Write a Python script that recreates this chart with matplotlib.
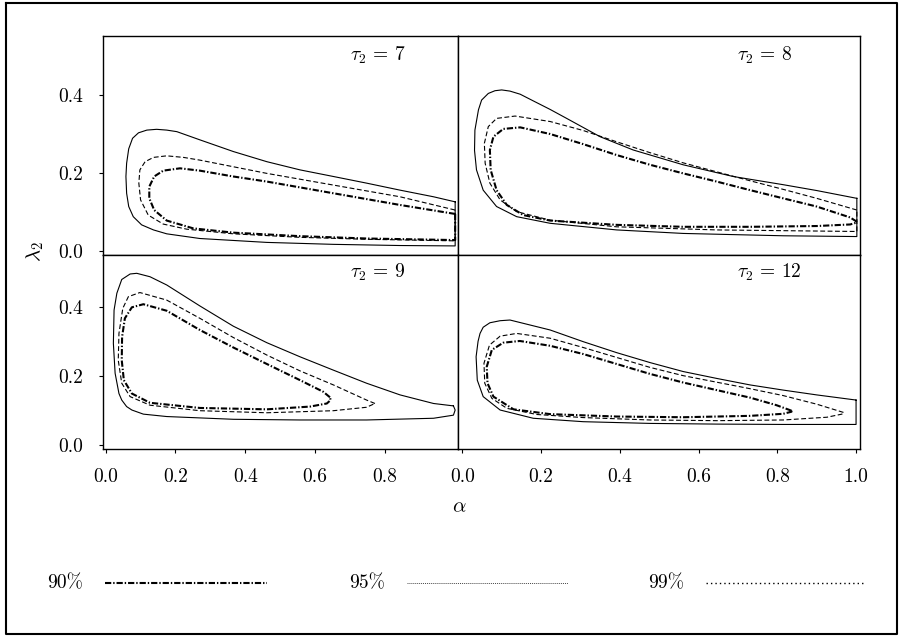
import matplotlib
matplotlib.use('Agg')
import matplotlib.pyplot as plt
import numpy as np

plt.rcParams['font.family'] = 'serif'
plt.rcParams['font.serif'] = ['cmr10', 'DejaVu Serif']
plt.rcParams['mathtext.fontset'] = 'cm'
plt.rcParams['axes.formatter.use_mathtext'] = True
plt.rcParams['lines.scale_dashes'] = False

# panel titles and confidence levels
taus = [7, 8, 9, 12]
levels = ['90%', '95%', '99%']

# contour points (alpha, lambda_2), tau_2 = 7
t7_99 = [(1.002, 0.126), (0.940, 0.139), (0.844, 0.156), (0.748, 0.174), (0.653, 0.191),
         (0.557, 0.208), (0.462, 0.229), (0.366, 0.255), (0.270, 0.285), (0.204, 0.306),
         (0.175, 0.310), (0.146, 0.312), (0.118, 0.310), (0.094, 0.303), (0.077, 0.289),
         (0.066, 0.262), (0.060, 0.225), (0.058, 0.191), (0.060, 0.148), (0.066, 0.114),
         (0.079, 0.088), (0.103, 0.067), (0.137, 0.054), (0.175, 0.044), (0.270, 0.032),
         (0.462, 0.022), (0.653, 0.017), (0.844, 0.014), (1.002, 0.013)]
t7_95 = [(1.002, 0.105), (0.844, 0.139), (0.653, 0.169), (0.462, 0.199), (0.366, 0.216),
         (0.270, 0.233), (0.223, 0.240), (0.175, 0.244), (0.137, 0.240), (0.113, 0.229),
         (0.098, 0.208), (0.095, 0.174), (0.100, 0.131), (0.122, 0.092), (0.165, 0.069),
         (0.232, 0.056), (0.366, 0.044), (0.557, 0.035), (0.748, 0.030), (1.002, 0.026)]
t7_90 = [(1.002, 0.095), (0.844, 0.118), (0.653, 0.148), (0.462, 0.178), (0.366, 0.191),
         (0.270, 0.206), (0.213, 0.212), (0.165, 0.206), (0.139, 0.191), (0.125, 0.165),
         (0.125, 0.135), (0.139, 0.105), (0.175, 0.078), (0.251, 0.058), (0.366, 0.047),
         (0.557, 0.038), (0.748, 0.032), (1.002, 0.028)]

# tau_2 = 8
t8_99 = [(1.002, 0.135), (0.900, 0.155), (0.815, 0.170), (0.688, 0.191), (0.561, 0.221),
         (0.434, 0.259), (0.350, 0.293), (0.265, 0.340), (0.223, 0.363), (0.180, 0.385),
         (0.147, 0.402), (0.121, 0.410), (0.100, 0.413), (0.083, 0.411), (0.066, 0.404),
         (0.049, 0.387), (0.041, 0.362), (0.032, 0.310), (0.031, 0.258), (0.036, 0.208),
         (0.053, 0.156), (0.087, 0.114), (0.138, 0.088), (0.223, 0.071), (0.392, 0.054),
         (0.561, 0.045), (0.815, 0.039), (1.002, 0.037)]
t8_95 = [(1.002, 0.105), (0.900, 0.135), (0.815, 0.158), (0.731, 0.180), (0.646, 0.203),
         (0.561, 0.226), (0.477, 0.252), (0.392, 0.280), (0.307, 0.309), (0.223, 0.332),
         (0.134, 0.346), (0.087, 0.340), (0.066, 0.319), (0.056, 0.276), (0.058, 0.225),
         (0.070, 0.174), (0.096, 0.131), (0.138, 0.101), (0.223, 0.079), (0.392, 0.062),
         (0.646, 0.054), (1.002, 0.050)]
t8_90 = [(1.002, 0.075), (0.985, 0.086), (0.900, 0.114), (0.815, 0.135), (0.731, 0.156),
         (0.646, 0.178), (0.561, 0.199), (0.477, 0.221), (0.392, 0.246), (0.307, 0.274),
         (0.223, 0.300), (0.147, 0.317), (0.104, 0.313), (0.079, 0.293), (0.070, 0.259),
         (0.072, 0.208), (0.087, 0.156), (0.113, 0.118), (0.155, 0.092), (0.223, 0.078),
         (0.392, 0.067), (0.561, 0.062), (0.731, 0.062), (0.900, 0.064), (0.985, 0.068),
         (1.002, 0.073)]

# tau_2 = 9
t9_99 = [(0.997, 0.113), (0.940, 0.120), (0.844, 0.145), (0.748, 0.179), (0.653, 0.217),
         (0.557, 0.256), (0.462, 0.297), (0.366, 0.345), (0.270, 0.404), (0.175, 0.465),
         (0.127, 0.489), (0.089, 0.499), (0.070, 0.497), (0.046, 0.481), (0.032, 0.441),
         (0.024, 0.392), (0.022, 0.295), (0.027, 0.208), (0.038, 0.149), (0.046, 0.130),
         (0.060, 0.111), (0.075, 0.101), (0.108, 0.089), (0.175, 0.082), (0.366, 0.074),
         (0.557, 0.072), (0.748, 0.072), (0.940, 0.077), (0.997, 0.086), (1.002, 0.101)]
t9_95 = [(0.772, 0.120), (0.748, 0.130), (0.653, 0.174), (0.557, 0.215), (0.462, 0.261),
         (0.366, 0.312), (0.270, 0.368), (0.175, 0.421), (0.098, 0.443), (0.065, 0.431),
         (0.049, 0.397), (0.038, 0.324), (0.036, 0.246), (0.046, 0.179), (0.070, 0.140),
         (0.127, 0.115), (0.270, 0.099), (0.462, 0.093), (0.653, 0.099), (0.748, 0.109)]
t9_90 = [(0.643, 0.138), (0.624, 0.154), (0.557, 0.188), (0.462, 0.235), (0.366, 0.283),
         (0.270, 0.334), (0.175, 0.390), (0.108, 0.409), (0.075, 0.400), (0.055, 0.368),
         (0.047, 0.314), (0.046, 0.246), (0.052, 0.188), (0.075, 0.149), (0.127, 0.122),
         (0.270, 0.107), (0.462, 0.103), (0.586, 0.111), (0.634, 0.120), (0.645, 0.130)]

# tau_2 = 12
t12_99 = [(1.000, 0.130), (0.900, 0.145), (0.815, 0.159), (0.731, 0.174), (0.646, 0.193),
          (0.561, 0.213), (0.477, 0.239), (0.392, 0.268), (0.307, 0.300), (0.223, 0.334),
          (0.121, 0.363), (0.096, 0.361), (0.070, 0.355), (0.053, 0.342), (0.045, 0.324),
          (0.040, 0.301), (0.035, 0.256), (0.038, 0.188), (0.053, 0.140), (0.096, 0.101),
          (0.180, 0.077), (0.307, 0.067), (0.477, 0.062), (0.646, 0.060), (0.815, 0.059),
          (1.000, 0.059)]
t12_95 = [(0.968, 0.094), (0.900, 0.118), (0.815, 0.143), (0.731, 0.163), (0.646, 0.182),
          (0.561, 0.201), (0.477, 0.225), (0.392, 0.254), (0.307, 0.283), (0.223, 0.310),
          (0.138, 0.324), (0.096, 0.316), (0.069, 0.290), (0.055, 0.237), (0.057, 0.179),
          (0.075, 0.135), (0.113, 0.106), (0.189, 0.088), (0.307, 0.079), (0.477, 0.072),
          (0.646, 0.070), (0.815, 0.072), (0.926, 0.080), (0.964, 0.089)]
t12_90 = [(0.836, 0.099), (0.798, 0.115), (0.731, 0.137), (0.646, 0.159), (0.561, 0.181),
          (0.477, 0.206), (0.392, 0.235), (0.307, 0.264), (0.223, 0.288), (0.146, 0.302),
          (0.104, 0.297), (0.075, 0.276), (0.062, 0.227), (0.064, 0.179), (0.079, 0.140),
          (0.130, 0.103), (0.223, 0.089), (0.392, 0.082), (0.561, 0.080), (0.731, 0.084),
          (0.815, 0.090), (0.836, 0.096)]

panels = {7: (t7_90, t7_95, t7_99), 8: (t8_90, t8_95, t8_99),
          9: (t9_90, t9_95, t9_99), 12: (t12_90, t12_95, t12_99)}

W, H = 903, 637
fig = plt.figure(figsize=(W / 100, H / 100), dpi=100)

def px_box(x0, y0, x1, y1):
    return [x0 / W, (H - y1) / H, (x1 - x0) / W, (y1 - y0) / H]

boxes = {7: px_box(102.7, 36, 458.3, 255), 8: px_box(458.3, 36, 860, 255),
         9: px_box(102.7, 255, 458.3, 449), 12: px_box(458.3, 255, 860, 449)}
ylims = {7: (-0.0103, 0.5513), 8: (-0.0103, 0.5513), 9: (-0.0125, 0.5523), 12: (-0.0125, 0.5523)}
xlims = {7: (-0.0086, 1.011), 9: (-0.0086, 1.011), 8: (-0.0102, 1.010), 12: (-0.0102, 1.010)}

styles = [dict(lw=1.5, dashes=(4.5, 1.4, 1.0, 1.4)),
          dict(lw=0.8, dashes=(3.5, 1.8)),
          dict(lw=0.8)]

for t in taus:
    ax = fig.add_axes(boxes[t])
    for pts, st in zip(panels[t], styles):
        p = np.array(pts + [pts[0]])
        kw = dict(st)
        d = kw.pop('dashes', None)
        line, = ax.plot(p[:, 0], p[:, 1], color='black', solid_joinstyle='round', **kw)
        if d is not None:
            line.set_dashes(d)
    ax.set_xlim(*xlims[t])
    ax.set_ylim(*ylims[t])
    for s in ax.spines.values():
        s.set_linewidth(1.0)
    ax.tick_params(axis='y', direction='out', length=3, width=0.8, labelsize=14, pad=11)
    ax.tick_params(axis='x', direction='out', length=3, width=0.8, labelsize=14, pad=11)
    ax.text(0.695, 0.91, r'$\tau_2 \,=\, %d$' % t, transform=ax.transAxes,
            ha='left', va='center', fontsize=14)
    if t in (7, 9):
        ax.set_yticks([0.0, 0.2, 0.4])
        ax.set_yticklabels(['0.0', '0.2', '0.4'])
    else:
        ax.set_yticks([])
    if t == 9:
        ax.set_xticks([0.0, 0.2, 0.4, 0.6, 0.8])
        ax.set_xticklabels(['0.0', '0.2', '0.4', '0.6', '0.8'])
    elif t == 12:
        ax.set_xticks([0.0, 0.2, 0.4, 0.6, 0.8, 1.0])
        ax.set_xticklabels(['0.0', '0.2', '0.4', '0.6', '0.8', '1.0'])
    else:
        ax.set_xticks([])

fig.text(35 / W, (H - 252) / H, r'$\lambda_2$', rotation=90, ha='center', va='center', fontsize=15)
fig.text(459 / W, (H - 507) / H, r'$\alpha$', ha='center', va='center', fontsize=15)

# overlay for the legend row and the outer frame
ov = fig.add_axes([0, 0, 1, 1])
ov.set_xlim(0, W)
ov.set_ylim(H, 0)
ov.axis('off')
ov.patch.set_alpha(0)
ov.plot([6, 897, 897, 6, 6], [3, 3, 634, 634, 3], color='black', lw=1.5)

leg_styles = [dict(lw=1.5, dashes=(4.5, 1.4, 1.0, 1.4)),
              dict(lw=0.5, dashes=(0.7, 0.7)),
              dict(lw=1.0, dashes=(1.0, 2.2))]
leg_x = [(105, 267), (407, 568), (706, 865)]
for lab, (x0, x1), st in zip(levels, leg_x, leg_styles):
    kw = dict(st)
    d = kw.pop('dashes')
    line, = ov.plot([x0, x1], [583, 583], color='black', **kw)
    line.set_dashes(d)
    ov.text(x0 - 22, 583, lab, ha='right', va='center', fontsize=14)

fig.savefig('out.png', dpi=100)
